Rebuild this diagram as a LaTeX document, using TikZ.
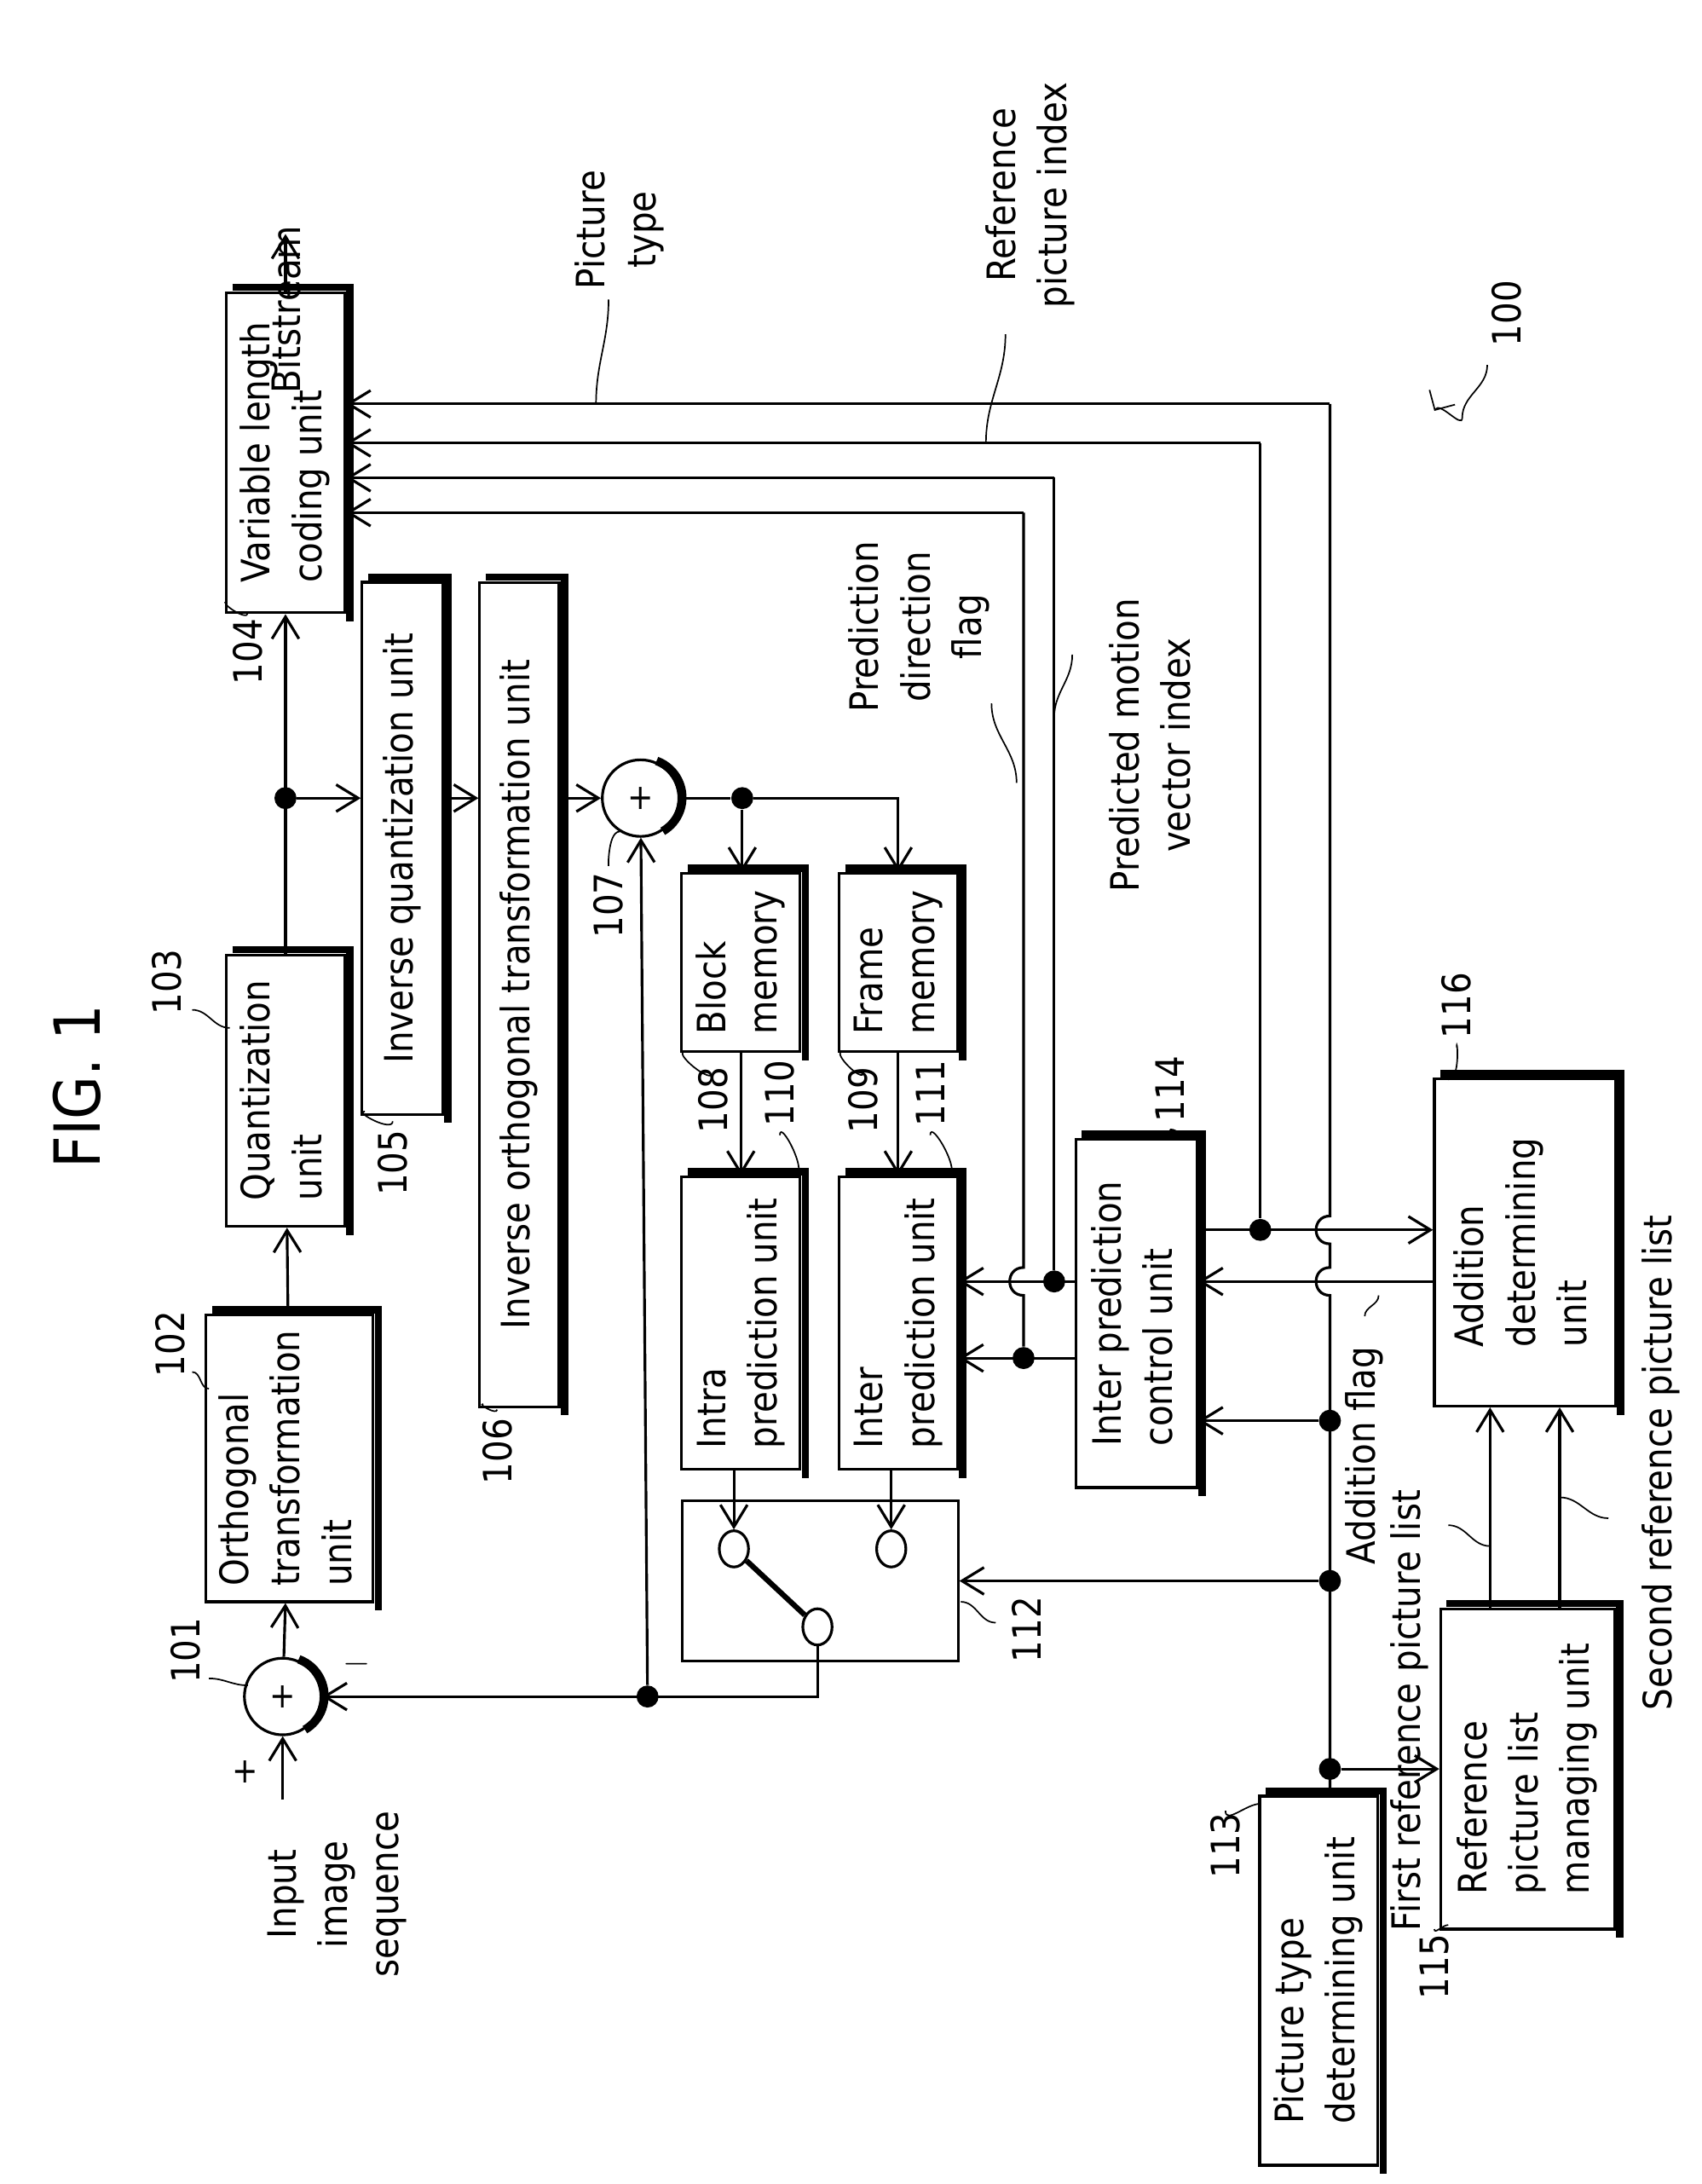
\documentclass[tikz,border=0pt]{standalone}
\usepackage{fontspec}
\setmainfont{DejaVu Sans}[FakeStretch=0.88]
\usetikzlibrary{positioning,arrows.meta,calc,shapes.geometric}

\tikzset{
  unit/.style={draw, line width=1.1pt, inner sep=0pt, align=left, fill=white},
  arr/.style={line width=1.1pt, -{Straight Barb[length=9pt,width=11pt,line width=1.1pt]}},
  wire/.style={line width=1.1pt},
  dot/.style={circle, fill, inner sep=0pt, minimum size=9pt},
  lbl/.style={rotate=90, align=center, inner sep=1pt},
  lead/.style={line width=0.6pt},
  adder/.style={draw, circle, line width=1.1pt, minimum size=1.1cm, inner sep=0pt},
  swc/.style={draw, ellipse, line width=1.1pt, minimum width=0.42cm, minimum height=0.52cm, inner sep=0pt}
}
\newcommand\rt[1]{\rotatebox{90}{\begin{tabular}{@{}l@{}}#1\end{tabular}}}
\newcommand\shadowof[1]{\draw[line width=3pt] ([xshift=3pt,yshift=1.6pt]#1.north west) -- ([xshift=1.6pt,yshift=1.6pt]#1.north east) -- ([xshift=1.6pt,yshift=-3pt]#1.south east);}

\begin{document}
\begin{tikzpicture}[x=0.02cm, y=-0.02cm, font=\fontsize{16}{21}\selectfont]
\useasboundingbox (0,0) rectangle (1222,1568);
% title
\node[lbl, font=\fontsize{26}{30}\selectfont] (fig) at (55,780) {FIG. 1};

% units
\node[unit, minimum width=2.4cm, minimum height=4.12cm] (ortho) at (208,1047) {\rt{Orthogonal\\transformation\\unit}};
\node[unit, minimum width=1.7cm, minimum height=3.9cm] (quant) at (205,783) {\rt{Quantization\\unit}};
\node[unit, minimum width=1.7cm, minimum height=4.6cm] (vlc) at (205,325) {\rt{Variable length\\coding unit}};
\node[unit, minimum width=1.16cm, minimum height=7.64cm] (iquant) at (289,609) {\rt{Inverse quantization unit}};
\node[unit, minimum width=1.14cm, minimum height=11.84cm] (iortho) at (373,714) {\rt{Inverse orthogonal transformation unit}};
\node[unit, minimum width=1.7cm, minimum height=2.56cm] (bmem) at (532,691) {\rt{Block\\memory}};
\node[unit, minimum width=1.7cm, minimum height=2.56cm] (fmem) at (645,691) {\rt{Frame\\memory}};
\node[unit, minimum width=1.7cm, minimum height=4.2cm] (intra) at (532,950) {\rt{Intra\\prediction unit}};
\node[unit, minimum width=1.7cm, minimum height=4.2cm] (inter) at (645,950) {\rt{Inter\\prediction unit}};
\node[unit, minimum width=3.96cm, minimum height=2.3cm] (switch) at (589,1135) {};
\node[unit, minimum width=1.7cm, minimum height=5.3cm] (ptype) at (947,1422) {\rt{Picture type\\determining unit}};
\node[unit, minimum width=1.74cm, minimum height=5.0cm] (ipctrl) at (816,943) {\rt{Inter prediction\\control unit}};
\node[unit, minimum width=2.5cm, minimum height=4.6cm] (rplist) at (1097,1270) {\rt{Reference\\picture list\\managing unit}};
\node[unit, minimum width=2.6cm, minimum height=4.7cm] (adddet) at (1095,892) {\rt{Addition\\determining\\unit}};
\foreach \u in {ortho,quant,vlc,iquant,iortho,bmem,fmem,intra,inter,ptype,ipctrl,rplist,adddet}
  {\shadowof{\u}}

% adders
\node[adder] (sum) at (203,1218) {\Large +};
\node[adder] (recon) at (460,573) {\Large +};
\draw[line width=3.5pt] ([xshift=1pt]sum.70) arc[start angle=70, end angle=-60, radius=0.56cm];
\draw[line width=3.5pt] ([xshift=1pt]recon.70) arc[start angle=70, end angle=-60, radius=0.56cm];

% switch
\node[swc] (sw1) at (527,1112) {};
\node[swc] (sw2) at (640,1112) {};
\node[swc] (sw3) at (587,1168) {};
\draw[line width=2.2pt] (sw1) -- (sw3);

% forward path
\coordinate (inp) at (203,1292);
\draw[arr] (inp) -- (sum);
\draw[arr] (sum) -- (ortho);
\draw[arr] (ortho) -- (quant);
\draw[arr] (quant) -- (vlc);
\coordinate (bits) at (205,168);
\draw[arr] (vlc) -- (bits);
\node[lbl, anchor=east] (bitsl) at (205,160) {Bitstream};
\node[dot] (d1) at (205,573) {};
\draw[arr] (d1) -- (iquant.west |- d1);
\draw[arr] (iquant.east |- d1) -- (iortho.west |- d1);
\draw[arr] (iortho.east |- recon) -- (recon);
\node[dot] (d2) at (533,573) {};
\draw[wire] (recon) -- (d2);
\draw[arr] (d2) -- (d2 |- bmem.north);
\draw[arr] (d2) -| (fmem.north);
\draw[arr] (bmem) -- (intra);
\draw[arr] (fmem) -- (inter);
\draw[arr] (intra.south -| sw1) -- (sw1);
\draw[arr] (inter.south -| sw2) -- (sw2);

% feedback
\coordinate (c1) at (587,1218);
\node[dot] (d3) at (465,1218) {};
\draw[arr] (sw3) -- (c1) -- (sum);
\draw[arr] (d3) -- (recon);
\node (plus) at (176,1272) {\Large +};
\node (minus) at (256,1195) {\Large $-$};

% control lines
\coordinate (pt1) at (955,290);
\coordinate (ri1) at (905,318);
\coordinate (pd1) at (757,343);
\coordinate (mv1) at (735,368);
\node[dot] (dri) at (905,883) {};
\node[dot] (dpd) at (757,920) {};
\node[dot] (dmv) at (735,975) {};
\node[dot] (dp1) at (955,1020) {};
\node[dot] (dp2) at (955,1135) {};
\node[dot] (dp3) at (955,1270) {};
\draw[arr] (pt1) -- (vlc.east |- pt1);
\draw[arr] (ri1) -- (vlc.east |- ri1);
\draw[arr] (pd1) -- (vlc.east |- pd1);
\draw[arr] (mv1) -- (vlc.east |- mv1);
\draw[wire] (ri1) -- (dri);
\draw[wire] (pd1) -- (dpd);
\draw[wire] (mv1) -- (735,910) to[out=180,in=180,looseness=1.7] (735,930) -- (dmv);
\draw[wire] (pt1) -- (955,873) to[out=180,in=180,looseness=1.7] (955,893)
  -- (955,910) to[out=180,in=180,looseness=1.7] (955,930) -- (ptype.north -| pt1);
\draw[arr] (ipctrl.east |- dri) -- (adddet.west |- dri);
\draw[arr] (adddet.west |- dpd) -- (ipctrl.east |- dpd);
\draw[arr] (ipctrl.west |- dpd) -- (inter.east |- dpd);
\draw[arr] (ipctrl.west |- dmv) -- (inter.east |- dmv);
\draw[arr] (dp1) -- (ipctrl.east |- dp1);
\draw[arr] (dp2) -- (switch.east |- dp2);
\draw[arr] (dp3) -- (rplist.west |- dp3);
\draw[arr] (rplist.north -| 1070,0) -- (adddet.south -| 1070,0);
\draw[arr] (rplist.north -| 1120,0) -- (adddet.south -| 1120,0);

% signal labels
\node[lbl] (ptl) at (445,165) {Picture\\type};
\draw[lead] (437,215) to[out=-90,in=90] (428,290);
\node[lbl] (ril) at (740,140) {Reference\\picture index};
\draw[lead] (722,240) to[out=-90,in=90] (708,318);
\node[lbl] (pdl) at (660,450) {Prediction\\direction\\flag};
\draw[lead] (712,505) to[out=-90,in=90] (730,562);
\node[lbl] (mvl) at (826,535) {Predicted motion\\vector index};
\draw[lead] (770,470) to[out=-90,in=90] (757,515);
\node[lbl] (afl) at (980,1045) {Addition flag};
\draw[lead] (990,930) to[out=-90,in=90] (980,945);
\node[lbl] (frl) at (1012,1228) {First reference picture list};
\draw[lead] (1040,1095) to[out=0,in=180] (1070,1110);
\node[lbl] (srl) at (1193,1050) {Second reference picture list};
\draw[lead] (1120,1075) to[out=0,in=180] (1155,1090);
\node[lbl] (inl) at (242,1360) {Input\\image\\sequence};

% reference numerals
\node[lbl] (n100) at (1082,225) {100};
\draw[lead, -{Straight Barb[length=6pt]}] (1068,262) to[out=-90,in=90] (1050,300) to[out=-90,in=60] (1030,295);
\node[lbl] (n101) at (133,1185) {101};
\draw[lead] (150,1205) to[out=0,in=180] (178,1210);
\node[lbl] (n102) at (122,965) {102};
\draw[lead] (138,985) to[out=0,in=180] (150,997);
\node[lbl] (n103) at (120,705) {103};
\draw[lead] (138,725) to[out=0,in=180] (165,738);
\node[lbl] (n104) at (178,468) {104};
\draw[lead] (178,440) to[out=-90,in=180] (163,432);
\node[lbl] (n105) at (282,835) {105};
\draw[lead] (282,805) to[out=-90,in=180] (262,798);
\node[lbl] (n106) at (357,1042) {106};
\draw[lead] (357,1012) to[out=-90,in=180] (347,1008);
\node[lbl] (n107) at (437,650) {107};
\draw[lead] (437,620) to[out=-90,in=180] (445,597);
\node[lbl] (n108) at (512,790) {108};
\draw[lead] (512,770) to[out=-90,in=180] (492,755);
\node[lbl] (n109) at (620,790) {109};
\draw[lead] (620,770) to[out=-90,in=180] (605,755);
\node[lbl] (n110) at (560,785) {110};
\draw[lead] (560,815) to[out=90,in=0] (570,845);
\node[lbl] (n111) at (668,785) {111};
\draw[lead] (668,815) to[out=90,in=0] (680,845);
\node[lbl] (n112) at (737,1170) {112};
\draw[lead] (690,1150) to[out=0,in=180] (715,1165);
\node[lbl] (n113) at (880,1325) {113};
\draw[lead] (880,1300) to[out=-90,in=180] (905,1295);
\node[lbl] (n114) at (840,782) {114};
\draw[lead] (840,812) to[out=90,in=0] (850,818);
\node[lbl] (n115) at (1030,1412) {115};
\draw[lead] (1030,1385) to[out=-90,in=180] (1040,1382);
\node[lbl] (n116) at (1046,722) {116};
\draw[lead] (1046,752) to[out=90,in=0] (1040,775);
\end{tikzpicture}
\end{document}
